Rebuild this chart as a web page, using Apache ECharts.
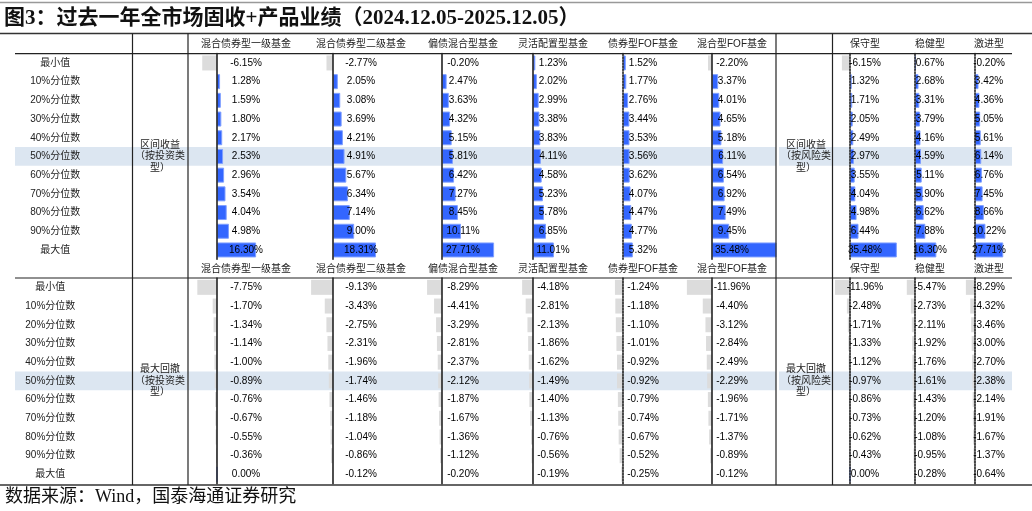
<!DOCTYPE html>
<html>
<head>
<meta charset="utf-8">
<script src="https://cdn.jsdelivr.net/npm/echarts@6/dist/echarts.min.js"></script>
<style>
  html, body { margin: 0; padding: 0; background: #fff; }
  #main { width: 1032px; height: 511px; }
</style>
</head>
<body>
<div id="main"></div>
<script>
// 行标签
const rowLabels = ['最小值', '10%分位数', '20%分位数', '30%分位数', '40%分位数', '50%分位数',
  '60%分位数', '70%分位数', '80%分位数', '90%分位数', '最大值']
const invTypes = ['混合债券型一级基金', '混合债券型二级基金', '偏债混合型基金', '灵活配置型基金', '债券型FOF基金', '混合型FOF基金']
const riskTypes = ['保守型', '稳健型', '激进型']

// 区间收益 (%)
const retBond1 = [-6.15, 1.28, 1.59, 1.80, 2.17, 2.53, 2.96, 3.54, 4.04, 4.98, 16.30]
const retBond2 = [-2.77, 2.05, 3.08, 3.69, 4.21, 4.91, 5.67, 6.34, 7.14, 9.00, 18.31]
const retHybrid = [-0.20, 2.47, 3.63, 4.32, 5.15, 5.81, 6.42, 7.27, 8.45, 10.11, 27.71]
const retFlex = [1.23, 2.02, 2.99, 3.38, 3.83, 4.11, 4.58, 5.23, 5.78, 6.85, 11.01]
const retBondFof = [1.52, 1.77, 2.76, 3.44, 3.53, 3.56, 3.62, 4.07, 4.47, 4.77, 5.32]
const retMixFof = [-2.20, 3.37, 4.01, 4.65, 5.18, 6.11, 6.54, 6.92, 7.49, 9.45, 35.48]
const retCons = [-6.15, 1.32, 1.71, 2.05, 2.49, 2.97, 3.55, 4.04, 4.98, 6.44, 35.48]
const retBal = [0.67, 2.68, 3.31, 3.79, 4.16, 4.59, 5.11, 5.90, 6.62, 7.88, 16.30]
const retAggr = [-0.20, 3.42, 4.36, 5.05, 5.61, 6.14, 6.76, 7.45, 8.66, 10.22, 27.71]

// 最大回撤 (%)
const ddBond1 = [-7.75, -1.70, -1.34, -1.14, -1.00, -0.89, -0.76, -0.67, -0.55, -0.36, 0.00]
const ddBond2 = [-9.13, -3.43, -2.75, -2.31, -1.96, -1.74, -1.46, -1.18, -1.04, -0.86, -0.12]
const ddHybrid = [-8.29, -4.41, -3.29, -2.81, -2.37, -2.12, -1.87, -1.67, -1.36, -1.12, -0.20]
const ddFlex = [-4.18, -2.81, -2.13, -1.86, -1.62, -1.49, -1.40, -1.13, -0.76, -0.56, -0.19]
const ddBondFof = [-1.24, -1.18, -1.10, -1.01, -0.92, -0.92, -0.79, -0.74, -0.67, -0.52, -0.25]
const ddMixFof = [-11.96, -4.40, -3.12, -2.84, -2.49, -2.29, -1.96, -1.71, -1.37, -0.89, -0.12]
const ddCons = [-11.96, -2.48, -1.71, -1.33, -1.12, -0.97, -0.86, -0.73, -0.62, -0.43, 0.00]
const ddBal = [-5.47, -2.73, -2.11, -1.92, -1.76, -1.61, -1.43, -1.20, -1.08, -0.95, -0.28]
const ddAggr = [-8.29, -4.32, -3.46, -3.00, -2.70, -2.38, -2.14, -1.91, -1.67, -1.37, -0.64]

// 版面
const ROW_H = 18.7
const ZERO_X = [217, 333, 442, 533, 623, 712, 850, 915, 975]   // 数据条轴线位置
const TEXT_X = [246, 361, 463, 553, 643, 732, 865, 930, 989]   // 文字中心
const K_RET = [2.4, 2.35, 1.88, 1.9, 1.85, 1.82, 1.32, 1.31, 1.02]  // px / 1%
const K_DD = [2.54, 2.4, 1.8, 2.6, 6.5, 2.1, 1.25, 1.5, 1.1]
const DASHED = [false, false, false, false, true, false, true, true, true]
const BLUE = '#3366FF', BLUE_EDGE = '#7F9FFF', GREY = '#DCDCDC'
const SANS = '"Liberation Sans", "Noto Sans CJK SC", sans-serif'
const SERIF = '"Liberation Serif", "Noto Sans CJK SC", serif'

const sections = [
  { top: 53.6, headY: 44, k: K_RET,
    cols: [retBond1, retBond2, retHybrid, retFlex, retBondFof, retMixFof, retCons, retBal, retAggr],
    group: ['区间收益\n（按投资类\n型）', '区间收益\n（按风险类\n型）'] },
  { top: 278, headY: 269.5, k: K_DD,
    cols: [ddBond1, ddBond2, ddHybrid, ddFlex, ddBondFof, ddMixFof, ddCons, ddBal, ddAggr],
    group: ['最大回撤\n（按投资类\n型）', '最大回撤\n（按风险类\n型）'] }
]
const headers = invTypes.concat(riskTypes)

let grids = [], xAxes = [], yAxes = [], series = [], graphics = []

const txt = (x, y, text, font, extra) => ({
  type: 'text', x: x, y: y, z: 100, silent: true,
  style: Object.assign({ text: text, font: font, fill: '#222', align: 'center', verticalAlign: 'middle' }, extra || {})
})
const line = (x1, y1, x2, y2, color, w) => ({
  type: 'line', z: 100, silent: true,
  shape: { x1: x1, y1: y1, x2: x2, y2: y2 },
  style: { stroke: color, lineWidth: w }
})

sections.forEach((sec) => {
  // 50%分位数 高亮
  graphics.push({ type: 'rect', z: 0, silent: true,
    shape: { x: 15, y: sec.top + 5 * ROW_H, width: 776 - 15, height: ROW_H }, style: { fill: '#DCE6F1' } })
  graphics.push({ type: 'rect', z: 0, silent: true,
    shape: { x: 779, y: sec.top + 5 * ROW_H, width: 1012 - 779, height: ROW_H }, style: { fill: '#DCE6F1' } })

  sec.cols.forEach((vals, c) => {
    const lo = Math.min(0, ...vals)
    const hi = Math.max(0, ...vals)
    const k = sec.k[c]
    const gi = grids.length
    const off = TEXT_X[c] - ZERO_X[c]
    grids.push({ left: ZERO_X[c] + lo * k, top: sec.top, width: (hi - lo) * k, height: ROW_H * 11,
      containLabel: false, outerBoundsMode: 'none' })
    xAxes.push({ gridIndex: gi, type: 'value', min: lo, max: hi, show: false })
    yAxes.push({
      gridIndex: gi, type: 'category', data: rowLabels, inverse: true, z: 5,
      axisTick: { show: false }, splitLine: { show: false },
      axisLine: { show: true, onZero: true,
        lineStyle: { color: '#222', width: 1.6, type: DASHED[c] ? [2, 1] : 'solid' } },
      axisLabel: c === 0
        ? { show: true, margin: ZERO_X[0] - 70, align: 'center', fontSize: 10, color: '#222', fontFamily: SANS }
        : { show: false }
    })
    series.push({
      type: 'bar', xAxisIndex: gi, yAxisIndex: gi, barWidth: 15, silent: true,
      data: vals.map(v => ({
        value: v,
        itemStyle: v < 0 ? { color: GREY } : { color: BLUE, borderColor: BLUE_EDGE, borderWidth: 1 }
      }))
    })
    series.push({
      type: 'custom', xAxisIndex: gi, yAxisIndex: gi, clip: false, silent: true, z: 6,
      data: vals.map((v, i) => [v, i]),
      encode: { x: 0, y: 1 },
      renderItem: (params, api) => {
        const p = api.coord([0, api.value(1)])
        return { type: 'text', x: p[0] + off, y: p[1],
          style: { text: api.value(0).toFixed(2) + '%', fill: '#000', fontSize: 10, fontFamily: SANS,
            align: 'center', verticalAlign: 'middle' } }
      }
    })
    graphics.push(txt(TEXT_X[c], sec.headY, headers[c], '10px ' + SANS))
  })
  graphics.push(txt(160, sec.top + 5.5 * ROW_H, sec.group[0], '10px ' + SANS, { lineHeight: 11.5 }))
  graphics.push(txt(806, sec.top + 5.5 * ROW_H, sec.group[1], '10px ' + SANS, { lineHeight: 11.5 }))
})

// 表格线
graphics.push(line(0, 2.5, 1032, 2.5, '#999', 1.5))
graphics.push(line(0, 33.5, 1032, 33.5, '#333', 1.5))
graphics.push(line(15, 53.6, 1012, 53.6, '#222', 1.2))
graphics.push(line(15, 278, 1012, 278, '#222', 1.2))
graphics.push(line(0, 485, 1032, 485, '#333', 1.5))
;[132.5, 188, 776, 832.5].forEach(x => graphics.push(line(x, 33.5, x, 485, '#222', 1.2)))

// 标题和来源
graphics.push(txt(4, 19, '图3：过去一年全市场固收+产品业绩（2024.12.05-2025.12.05）', 'bold 21px ' + SERIF,
  { align: 'left', fill: '#111' }))
graphics.push(txt(5, 497, '数据来源：Wind，国泰海通证券研究', '18px ' + SERIF, { align: 'left', fill: '#111' }))

let myChart = echarts.init(document.getElementById('main'))
let option = {
  animation: false,
  grid: grids,
  xAxis: xAxes,
  yAxis: yAxes,
  series: series,
  graphic: { elements: graphics }
}
myChart.setOption(option)
</script>
</body>
</html>
